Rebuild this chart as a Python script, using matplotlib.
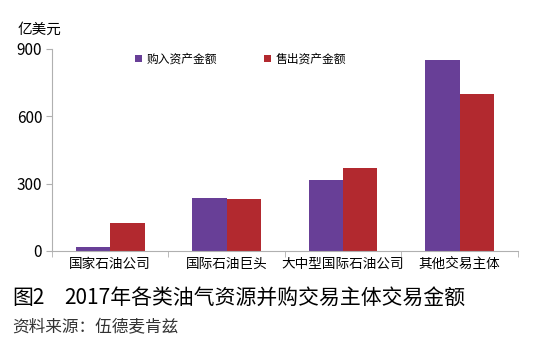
import matplotlib

matplotlib.use("Agg")
import matplotlib.pyplot as plt  # noqa: E402
import numpy as np  # noqa: E402

plt.rcParams["font.family"] = ["Noto Sans CJK SC", "DejaVu Sans"]

categories = ["国家石油公司", "国际石油巨头", "大中型国际石油公司", "其他交易主体"]
buy_values = [18, 236, 316, 851]
sell_values = [125, 232, 370, 700]
series_names = ["购入资产金额", "售出资产金额"]
y_ticks = [0, 300, 600, 900]

PURPLE = "#683f97"
RED = "#b2292f"
AXIS_GRAY = "#b0b0b0"

fig = plt.figure(figsize=(5.41, 3.54), dpi=100)
ax = fig.add_axes([0.096, 0.291, 0.861, 0.571])

x = np.arange(len(categories))
w = 0.295
ax.bar(x - w / 2, buy_values, width=w, color=PURPLE, label=series_names[0])
ax.bar(x + w / 2, sell_values, width=w, color=RED, label=series_names[1])

ax.set_xlim(-0.5, len(categories) - 0.5)
ax.set_ylim(0, 900)
ax.set_yticks(y_ticks)
ax.set_xticks(x)
ax.set_xticklabels(categories, fontsize=9.8)
ax.tick_params(axis="x", length=0, pad=4)
ax.set_xticks(np.arange(-0.5, len(categories)), minor=True)
ax.tick_params(axis="x", which="minor", length=4, color=AXIS_GRAY)
ax.tick_params(axis="y", labelsize=11, length=4, color=AXIS_GRAY, pad=3)

for side in ["top", "right"]:
    ax.spines[side].set_visible(False)
for side in ["left", "bottom"]:
    ax.spines[side].set_color(AXIS_GRAY)

ax.legend(loc="center", bbox_to_anchor=(0.405, 0.95), ncol=2, frameon=False,
          fontsize=8.5, handlelength=0.6, handleheight=0.6, columnspacing=4.0,
          handletextpad=0.4)

fig.text(0.033, 0.895, "亿美元", fontsize=10.5, ha="left", va="bottom")
fig.text(0.022, 0.158, "图2", fontsize=15, ha="left", va="center")
fig.text(0.118, 0.158, "2017年各类油气资源并购交易主体交易金额", fontsize=15,
         ha="left", va="center")
fig.text(0.022, 0.074, "资料来源：伍德麦肯兹", fontsize=12, ha="left", va="center",
         color="#333333")

fig.savefig("out.png", dpi=100)
